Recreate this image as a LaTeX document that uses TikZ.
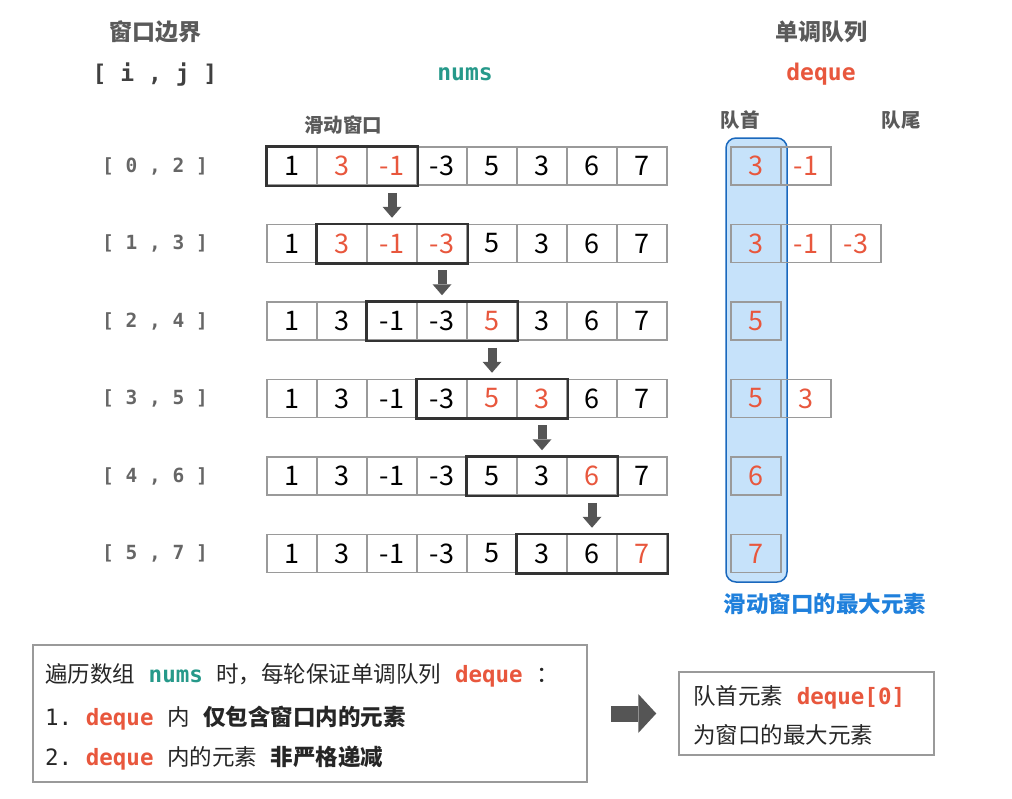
\documentclass[tikz,border=0pt]{standalone}
\usepackage{fontspec}
\setmainfont{Noto Sans CJK SC}
\setmonofont{DejaVu Sans Mono}
\usepackage{tikz}
\usetikzlibrary{positioning, arrows.meta}

\definecolor{numred}{HTML}{E8573D}
\definecolor{numteal}{HTML}{26998A}
\definecolor{maxblue}{HTML}{1F80DC}
\definecolor{maxfill}{HTML}{C6E2FA}
\definecolor{maxline}{HTML}{1A68BD}
\definecolor{cellgray}{HTML}{9A9A9A}
\definecolor{headgray}{HTML}{5A5A5A}
\definecolor{arrgray}{HTML}{555555}

\newcommand{\redv}[1]{\textcolor{numred}{#1}}
\newcommand{\msp}{{\ttfamily\ }}
\newcommand{\codeword}[2]{{\ttfamily\bfseries\color{#1}#2}}

\tikzset{
  cell/.style={draw=cellgray, line width=1.5pt, minimum width=50pt, minimum height=38pt, inner sep=0pt, font=\fontsize{27}{30}\selectfont},
  qcell/.style={cell, text=numred},
  window/.style={draw=black!80, line width=2.5pt},
  downarr/.style={draw=arrgray, line width=9pt, -{Triangle[width=19pt, length=11pt, line width=0pt]}},
  bigarr/.style={draw=arrgray, line width=16pt, -{Triangle[width=39pt, length=18pt, line width=0pt]}},
  head/.style={text=headgray, font=\fontsize{23}{26}\selectfont\bfseries},
  subhead/.style={text=headgray, font=\fontsize{19.5}{22}\selectfont\bfseries},
  codehead/.style={font=\fontsize{23}{26}\selectfont\ttfamily\bfseries},
  bound/.style={text=black!60, font=\fontsize{19.5}{22}\selectfont\ttfamily\bfseries},
  maxbox/.style={draw=maxline, fill=maxfill, line width=1.5pt, rounded corners=10pt, minimum width=61pt, minimum height=444pt, inner sep=0pt},
  maxlabel/.style={text=maxblue, font=\fontsize{22.5}{26}\selectfont\bfseries},
  notebox/.style={draw=cellgray, line width=1.5pt, inner sep=0pt},
  notetext/.style={anchor=west, inner sep=0pt, text=black!85, font=\fontsize{22.5}{26}\selectfont}
}

\begin{document}
\begin{tikzpicture}[x=1pt, y=-1pt]
\useasboundingbox (0,0) rectangle (1012,798);

		% headings %
		\node[head] (winhead) at (155,32) {窗口边界};
		\node[bound, text=black!75, font=\fontsize{23}{26}\selectfont\ttfamily\bfseries] (ijhead) at (155,75) {[ i , j ]};
		\node[codehead, text=numteal] (numshead) at (465,74) {nums};
		\node[head] (qhead) at (821,32) {单调队列};
		\node[codehead, text=numred] (dqhead) at (821,74) {deque};
		\node[subhead] (slide) at (343,125) {滑动窗口};
		\node[subhead] (front) at (740,120) {队首};
		\node[subhead] (back) at (901,120) {队尾};

		% max column, behind the deque cells %
		\node[maxbox] (maxcol) at (756.5,360) {};
		\node[maxlabel] (maxtext) at (825,604) {滑动窗口的最大元素};

		% nums rows %
		\foreach \vals [count=\row from 0] in {
			{1,\redv{3},\redv{-1},-3,5,3,6,7},
			{1,\redv{3},\redv{-1},\redv{-3},5,3,6,7},
			{1,3,-1,-3,\redv{5},3,6,7},
			{1,3,-1,-3,\redv{5},\redv{3},6,7},
			{1,3,-1,-3,5,3,\redv{6},7},
			{1,3,-1,-3,5,3,6,\redv{7}}}
			\foreach \v [count=\k from 0] in \vals
				\node[cell] (c\row-\k) at (292+50*\k, 166+77.5*\row) {\v};

		% windows and bounds %
		\foreach \row in {0,...,5} {
			\pgfmathtruncatemacro\last{\row+2}
			\draw[window] (c\row-\row.north west) rectangle (c\row-\last.south east);
			\node[bound] (b\row) at (155, 166+77.5*\row) {[ \row\ , \last\ ]};
		}

		% arrows %
		\foreach \row in {0,...,4} {
			\pgfmathtruncatemacro\nxt{\row+1}
			\pgfmathtruncatemacro\col{\row+2}
			\draw[downarr] ([yshift=-7pt]c\row-\col.south) -- ([yshift=6pt]c\nxt-\col.north);
		}

		% deque rows %
		\foreach \vals [count=\row from 0] in {{3,-1},{3,-1,-3},{5},{5,3},{6},{7}}
			\foreach \v [count=\k from 0] in \vals
				\node[qcell] (q\row-\k) at (756+50*\k, 166+77.5*\row) {\v};

		% notes %
		\node[notebox, minimum width=554pt, minimum height=137pt] (rulebox) at (310,713.5) {};
		\node[notetext] (rule1) at (45,675) {遍历数组\msp\codeword{numteal}{nums}\msp 时，每轮保证单调队列\msp\codeword{numred}{deque}\msp ：};
		\node[notetext] (rule2) at (45,718) {{\ttfamily 1.\ }\codeword{numred}{deque}\msp 内\msp{\bfseries 仅包含窗口内的元素}};
		\node[notetext] (rule3) at (45,758) {{\ttfamily 2.\ }\codeword{numred}{deque}\msp 内的元素\msp{\bfseries 非严格递减}};

		\node[notebox, minimum width=255pt, minimum height=83pt] (topbox) at (806.5,713.5) {};
		\node[notetext] (top1) at (693,697) {队首元素\msp\codeword{numred}{deque[0]}};
		\node[notetext] (top2) at (693,735) {为窗口的最大元素};

		\draw[bigarr] ([xshift=23pt]rulebox.east) -- ([xshift=-22pt]topbox.west);
\end{tikzpicture}
\end{document}
